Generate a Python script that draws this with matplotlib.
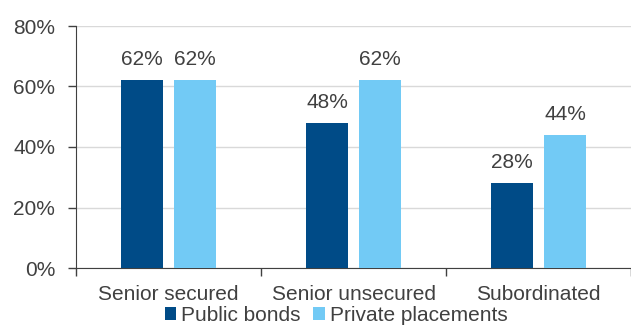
import numpy as np
import matplotlib
matplotlib.use('Agg')
import matplotlib.pyplot as plt
from matplotlib.ticker import PercentFormatter

categories = ['Senior secured', 'Senior unsecured', 'Subordinated']
public_bonds = [62, 48, 28]
private_placements = [62, 62, 44]
series_names = ['Public bonds', 'Private placements']
y_ticks = [0, 20, 40, 60, 80]

dark = '#004B87'
light = '#72CAF5'
txt = '#404040'
fs = 15

plt.rcParams['font.family'] = ['Liberation Sans', 'DejaVu Sans']
plt.rcParams['font.size'] = fs

dpi = 100.0
fig = plt.figure(figsize=(631/dpi, 327/dpi), dpi=dpi)
ax = fig.add_axes([76/631., 59/327., 1 - 76/631., 242/327.])

x = np.arange(len(categories))
w = 0.224
off = 0.143
b1 = ax.bar(x - off, public_bonds, w, color=dark, label=series_names[0], zorder=3)
b2 = ax.bar(x + off, private_placements, w, color=light, label=series_names[1], zorder=3)
for bars in (b1, b2):
    ax.bar_label(bars, labels=['%d%%' % v for v in bars.datavalues], padding=8,
                 color=txt, fontsize=fs)

ax.set_xlim(-0.5, -0.5 + 555/189.)
ax.set_ylim(0, 80)
ax.set_yticks(y_ticks)
ax.yaxis.set_major_formatter(PercentFormatter(decimals=0))
ax.grid(axis='y', color='#D9D9D9', linewidth=1, zorder=0)

ax.set_xticks(x)
ax.set_xticklabels(categories, color=txt)
ax.set_xticks(np.arange(len(categories) + 1) - 0.5, minor=True)
ax.tick_params(axis='x', which='major', length=0, pad=12)
ax.tick_params(axis='x', which='minor', length=6, width=1, color='#404040')
ax.tick_params(axis='y', length=6, width=1, color='#404040', labelcolor=txt, pad=9)

for s in ('top', 'right'):
    ax.spines[s].set_visible(False)
ax.spines['left'].set_color('#404040')
ax.spines['bottom'].set_color('#404040')

fig.legend(loc='center', bbox_to_anchor=(0.533, 0.036), ncol=2, frameon=False,
           handlelength=0.55, handleheight=0.55, handletextpad=0.25, columnspacing=0.6,
           fontsize=fs, labelcolor=txt, borderpad=0)

fig.savefig('out.png', dpi=dpi)
